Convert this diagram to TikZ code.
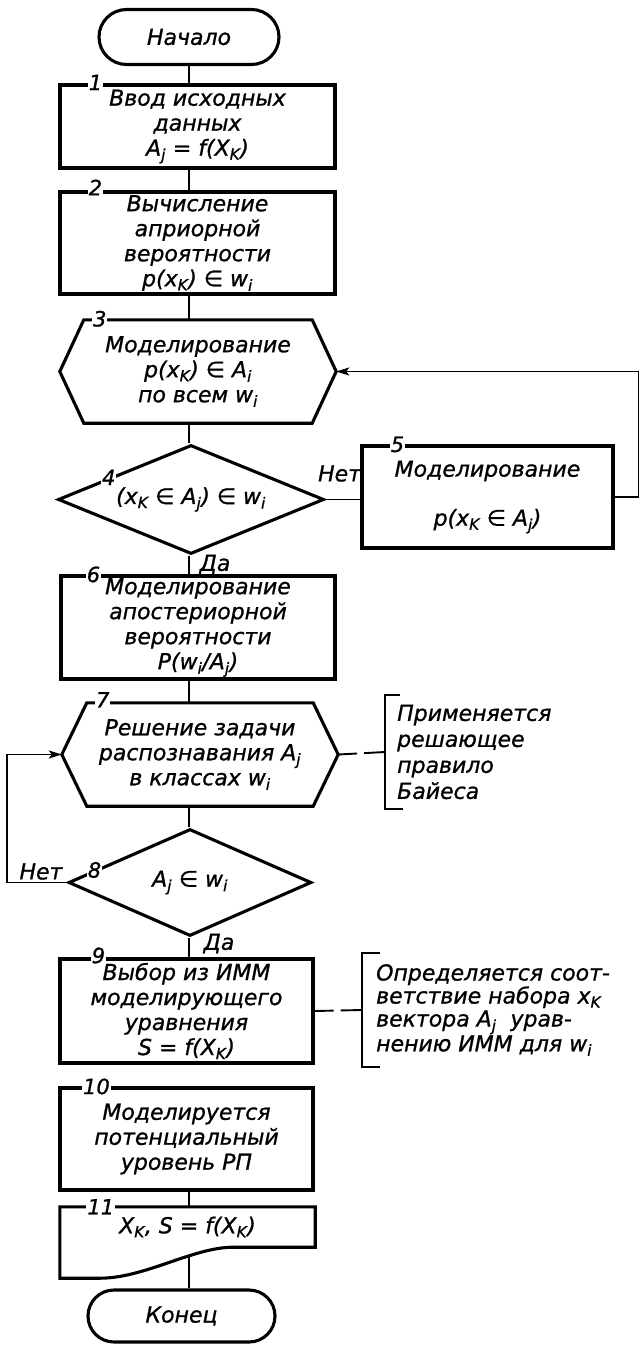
\documentclass[tikz,border=0pt]{standalone}
\usepackage{fontspec}
\setmainfont{DejaVu Sans}[ItalicFont={DejaVu Sans Oblique}, ItalicFeatures={FakeBold=1}]
\usetikzlibrary{shapes,arrows.meta,positioning}

\begin{document}
\begin{tikzpicture}[
    x=1pt, y=-1pt,
    every node/.style={align=center, font=\itshape\fontsize{22}{25}\selectfont},
    block/.style={rectangle, draw, line width=3.1pt, inner sep=1pt},
    term/.style={rounded rectangle, draw, line width=3.1pt, inner sep=1pt},
    decision/.style={diamond, draw, line width=3.1pt, inner sep=0pt, aspect=2.4},
    prep/.style={rectangle, inner sep=1pt},
    shapeline/.style={line width=3.1pt},
    num/.style={fill=white, inner sep=1pt, font=\itshape\fontsize{21}{22}\selectfont},
    note/.style={rectangle, anchor=west, align=left, minimum height=114pt},
    line/.style={line width=1.9pt},
    arrow/.style={line, -{Stealth[length=13pt,width=8pt,inset=3pt]}},
    dashline/.style={line, dash pattern=on 19pt off 7pt on 40pt off 1pt}
]
\useasboundingbox (0,0) rectangle (639,1346);

% Main components
\node[term, minimum width=182pt, minimum height=55pt] (begin) at (189,37) {Начало};
\node[block, minimum width=275pt, minimum height=83pt] (input) at (197.5,126.5)
    {Ввод исходных\\данных\\A\textsubscript{j} = f(X\textsubscript{K})};
\node[block, minimum width=275pt, minimum height=102pt] (prior) at (197.5,243)
    {Вычисление\\априорной\\вероятности\\p(x\textsubscript{K}) ∈ w\textsubscript{i}};
\node[prep, minimum width=228pt, minimum height=103pt] (modelall) at (198,371.5)
    {Моделирование\\p(x\textsubscript{K}) ∈ A\textsubscript{i}\\по всем w\textsubscript{i}};
\draw[shapeline] (modelall.north west) -- ([xshift=-24pt]modelall.west) coordinate (modelall-w)
    -- (modelall.south west) -- (modelall.south east)
    -- ([xshift=24pt]modelall.east) coordinate (modelall-e) -- (modelall.north east) -- cycle;
\node[decision, minimum width=266pt, minimum height=109pt] (checkA) at (191,499.5)
    {(x\textsubscript{K} ∈ A\textsubscript{j}) ∈ w\textsubscript{i}};
\node[block, minimum width=251pt, minimum height=102pt] (modelB) at (487.5,497)
    {Моделирование\\[24pt]p(x\textsubscript{K} ∈ A\textsubscript{j})};
\node[block, minimum width=274pt, minimum height=103pt] (posterior) at (198,627.5)
    {Моделирование\\апостериорной\\вероятности\\P(w\textsubscript{i}/A\textsubscript{j})};
\node[prep, minimum width=226pt, minimum height=103pt] (recog) at (200,754.5)
    {Решение задачи\\распознавания A\textsubscript{j}\\в классах w\textsubscript{i}};
\draw[shapeline] (recog.north west) -- ([xshift=-25pt]recog.west) coordinate (recog-w)
    -- (recog.south west) -- (recog.south east)
    -- ([xshift=25pt]recog.east) coordinate (recog-e) -- (recog.north east) -- cycle;
\node[decision, minimum width=243pt, minimum height=107pt] (checkW) at (190,882.5)
    {A\textsubscript{j} ∈ w\textsubscript{i}};
\node[block, minimum width=253pt, minimum height=104pt] (choose) at (186.5,1011)
    {Выбор из ИММ\\моделирующего\\уравнения\\S = f(X\textsubscript{K})};
\node[block, minimum width=253pt, minimum height=102pt] (level) at (186.5,1139)
    {Моделируется\\потенциальный\\уровень РП};
\node[prep, minimum width=255pt, minimum height=40pt] (output) at (187.5,1227)
    {X\textsubscript{K}, S = f(X\textsubscript{K})};
\draw[shapeline] (output.north west) -- (output.north east) -- (output.south east) -- ++(-82,0)
    .. controls +(-40,0) and +(45,0) .. coordinate[pos=0.35] (outport) ([xshift=40pt,yshift=-31pt]output.south west)
    -- ([yshift=-31pt]output.south west) -- cycle;
\node[term, minimum width=189pt, minimum height=52pt] (finish) at (181.5,1316) {Конец};

% Notes
\node[note, inner xsep=12pt, font=\itshape\fontsize{22}{26}\selectfont] (bayes) at (385,752)
    {Применяется\\решающее\\правило\\Байеса};
\draw[line width=2.4pt] ([xshift=15pt]bayes.north west) -- (bayes.north west)
    -- (bayes.south west) -- ([xshift=18pt]bayes.south west);
\node[note, inner xsep=14pt, font=\itshape\fontsize{22}{23}\selectfont] (immnote) at (362,1010)
    {Определяется соот-\\ветствие набора x\textsubscript{K}\\вектора A\textsubscript{j}\ \ урав-\\нению ИММ для w\textsubscript{i}};
\draw[line width=2.4pt] ([xshift=18pt]immnote.north west) -- (immnote.north west)
    -- (immnote.south west) -- ([xshift=18pt]immnote.south west);

% Connections
\draw[line] (begin.south) -- (begin.south |- input.north);
\draw[line] (input.south -| begin) -- (prior.north -| begin);
\draw[line] (prior.south -| begin) -- (modelall.north -| begin);
\draw[line] (modelall.south -| begin) -- (checkA.north -| begin);
\draw[line] (checkA.east) -- (checkA.east -| modelB.west);
\draw[arrow] (modelB.east) -- ++(24,0) |- (modelall-e);
\draw[line] (checkA.south -| begin) -- (posterior.north -| begin);
\draw[line] (posterior.south -| begin) -- (recog.north -| begin);
\draw[line] (recog.south -| begin) -- (checkW.north -| begin);
\draw[arrow] (checkW.west) -- ++(-60,0) |- (recog-w);
\draw[line] (checkW.south -| begin) -- (choose.north -| begin);
\draw[line] (level.south -| begin) -- (output.north -| begin);
\draw[line] (outport) -- (outport |- finish.north);
\draw[dashline] (recog-e) -- (bayes.west);
\draw[dashline] (choose.east) -- (immnote.west);

% Branch labels
\node (noA) at ([xshift=14pt,yshift=26pt]checkA.east) {Нет};
\node (yesA) at ([xshift=24pt,yshift=-9pt]checkA.south) {Да};
\node (noW) at ([xshift=-26pt,yshift=11pt]checkW.west) {Нет};
\node (yesW) at ([xshift=29pt,yshift=-6pt]checkW.south) {Да};

% Block numbers
\node[num] (num1) at ([xshift=37pt,yshift=1pt]input.north west) {1};
\node[num] (num2) at ([xshift=37pt,yshift=3pt]prior.north west) {2};
\node[num] (num3) at ([xshift=16pt,yshift=1pt]modelall.north west) {3};
\node[num] (num4) at ([xshift=-15pt,yshift=-6pt]checkA.north west) {4};
\node[num] (num5) at ([xshift=37pt,yshift=0pt]modelB.north west) {5};
\node[num] (num6) at ([xshift=34pt,yshift=0pt]posterior.north west) {6};
\node[num] (num7) at ([xshift=16pt,yshift=3pt]recog.north west) {7};
\node[num] (num8) at ([xshift=-34pt,yshift=-15pt]checkW.north west) {8};
\node[num] (num9) at ([xshift=40pt,yshift=2pt]choose.north west) {9};
\node[num] (num10) at ([xshift=38pt,yshift=0pt]level.north west) {10};
\node[num] (num11) at ([xshift=41pt,yshift=0pt]output.north west) {11};

\end{tikzpicture}
\end{document}
